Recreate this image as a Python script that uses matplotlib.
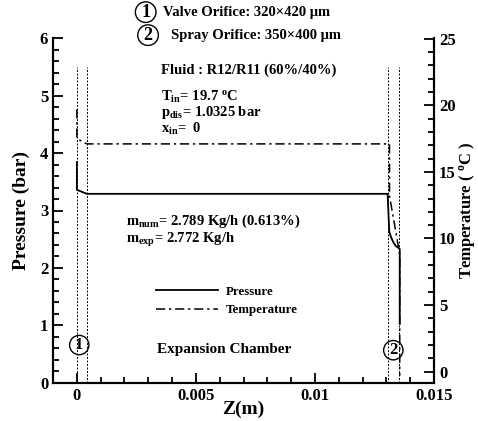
import matplotlib
matplotlib.use("Agg")
import matplotlib.pyplot as plt
from matplotlib.ticker import MultipleLocator, FixedLocator

plt.rcParams['font.family'] = ['Liberation Serif', 'DejaVu Serif']
plt.rcParams['font.weight'] = 'bold'
plt.rcParams['mathtext.fontset'] = 'custom'
plt.rcParams['mathtext.rm'] = 'Liberation Serif:bold'
plt.rcParams['mathtext.it'] = 'Liberation Serif:italic:bold'
plt.rcParams['mathtext.bf'] = 'Liberation Serif:bold'

# pressure along the nozzle (bar)
z_p = [0.0, 0.0, 0.00042, 0.01305, 0.01312, 0.0132, 0.0133, 0.0134, 0.01351, 0.01356, 0.01356]
p = [3.84, 3.36, 3.29, 3.29, 2.63, 2.53, 2.44, 2.38, 2.35, 2.33, 1.0325]

# temperature along the nozzle (deg C)
z_t = [0.0, 0.0, 0.00042, 0.01313, 0.01313, 0.01356, 0.01356]
t = [19.7, 17.5, 17.1, 17.1, 13.2, 8.8, -0.3]

# orifice boundaries (m)
orifice_z = [0.0, 0.00042, 0.01305, 0.01355]
orifice_top = 5.5

fig = plt.figure(figsize=(4.78, 4.21), dpi=100)
ax = fig.add_axes([0.111, 0.0903, 0.797, 0.8194])
ax2 = ax.twinx()

for z in orifice_z:
    ax.plot([z, z], [0, orifice_top], color='k', lw=0.7, ls=(0, (2, 1.6)))

l1, = ax.plot(z_p, p, color='k', lw=1.3, ls='-')
l2, = ax2.plot(z_t, t, color='k', lw=1.1, ls=(0, (6, 2.5, 1.5, 2.5)))

ax.set_xlim(-0.001, 0.015)
ax.set_ylim(0, 6)
ax2.set_ylim(-0.85, 25.05)

ax.xaxis.set_major_locator(FixedLocator([0, 0.005, 0.01, 0.015]))
ax.set_xticklabels(['0', '0.005', '0.01', '0.015'])
ax.xaxis.set_minor_locator(MultipleLocator(0.001))
ax.yaxis.set_major_locator(MultipleLocator(1))
ax.yaxis.set_minor_locator(MultipleLocator(0.2))
ax2.yaxis.set_major_locator(MultipleLocator(5))
ax2.yaxis.set_minor_locator(MultipleLocator(1))

for a in (ax, ax2):
    a.spines['top'].set_visible(False)
    for s in a.spines.values():
        s.set_linewidth(1.5)
ax.tick_params(which='both', direction='in', top=False, right=False, width=1.3, labelsize=12)
ax.tick_params(which='major', length=7)
ax.tick_params(which='minor', length=4)
ax2.tick_params(which='both', direction='in', width=1.3, labelsize=12)
ax2.tick_params(which='major', length=7)
ax2.tick_params(which='minor', length=4)
for lab in ax.get_xticklabels() + ax.get_yticklabels() + ax2.get_yticklabels():
    lab.set_fontweight('bold')

ax.set_xlabel('Z(m)', fontsize=14, fontweight='bold', labelpad=-2)
ax.set_ylabel('Pressure (bar)', fontsize=14, fontweight='bold', labelpad=7)
ax2.set_ylabel('Temperature ( $^{\\rm o}$C )', fontsize=12, fontweight='bold', labelpad=1)

circ = dict(boxstyle='circle,pad=0.1', fc='none', ec='k', lw=1.0)
tk = dict(fontsize=10.5, fontweight='bold', va='center', ha='left')

ax.text(0.00289, 6.45, '1', fontsize=13, fontweight='bold', ha='center', va='center', bbox=circ, clip_on=False)
ax.text(0.00363, 6.45, 'Valve Orifice: 320×420 μm', clip_on=False, **tk)
ax.text(0.00299, 6.05, '2', fontsize=13, fontweight='bold', ha='center', va='center', bbox=circ, clip_on=False)
ax.text(0.00397, 6.05, 'Spray Orifice: 350×400 μm', clip_on=False, **tk)

ax.text(0.00354, 5.44, 'Fluid : R12/R11 (60%/40%)', **tk)
inlet_text = ('T$_{\\rm in}$= 19.7 $^{\\rm o}$C\n'
              'p$_{\\rm dis}$= 1.0325 bar\n'
              'x$_{\\rm in}$=  0')
ax.text(0.00354, 4.70, inlet_text, linespacing=0.95, **tk)

mass_text = ('m$_{\\rm num}$= 2.789 Kg/h (0.613%)\n'
             'm$_{\\rm exp}$= 2.772 Kg/h')
ax.text(0.00207, 2.645, mass_text, linespacing=1.05, **tk)

ax.text(0.0062, 0.59, 'Expansion Chamber', fontsize=11, fontweight='bold', ha='center', va='center')
ax.text(0.0001, 0.66, '1', fontsize=12, fontweight='bold', ha='center', va='center', bbox=circ)
ax.text(0.01329, 0.57, '2', fontsize=12, fontweight='bold', ha='center', va='center', bbox=circ)

leg = ax.legend([l1, l2], ['Pressure', 'Temperature'], loc='upper left',
                bbox_to_anchor=(0.24, 0.315), frameon=False, handlelength=4.8,
                handletextpad=0.6, labelspacing=0.5, prop={'size': 9.3, 'weight': 'bold'})

fig.savefig('out.png', dpi=100)
